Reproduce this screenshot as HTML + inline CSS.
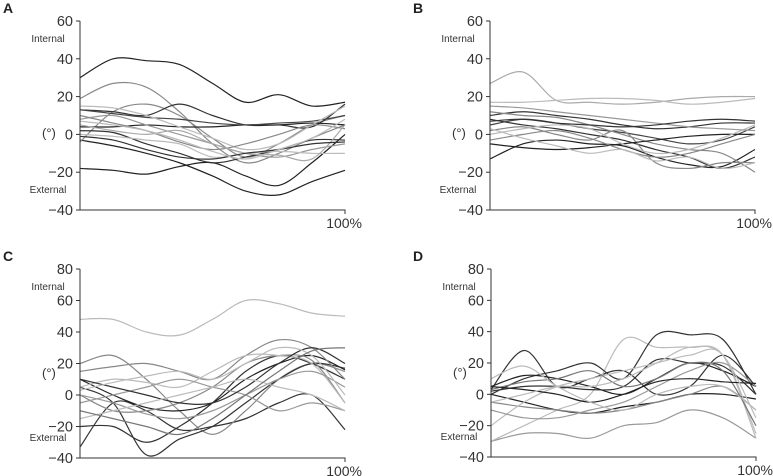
<!DOCTYPE html>
<html><head><meta charset="utf-8"><style>
body{margin:0;background:#fff;}
svg{display:block;font-family:"Liberation Sans",Arial,sans-serif;}
</style></head><body>
<svg id="chart" width="773" height="476"></svg>
<script>
const xFrac=[0,0.125,0.25,0.375,0.5,0.625,0.75,0.875,1];
const yTicksAB=[60,40,20,0,-20,-40];
const yTicksCD=[80,60,40,20,0,-20,-40];
const seriesA=[
[30,40,39,37,27,17,21,15,17],[-18,-19,-21,-17,-15,-22,-27,-15,0],[-3,-6,-10,-15,-22,-30,-32,-25,-19],
[-4,12,16,10,-2,-12,-5,5,10],[19,27,25,12,-5,-15,-10,-2,5],[13,12,10,16,10,5,5,4,16],
[4,4,5,4,4,5,5,6,5],[13,11,9,8,6,5,6,7,10],[8,10,5,0,-5,-10,-12,-8,-5],
[15,14,10,4,-2,-8,-5,5,15],[2,1,-5,-10,-15,-12,-8,-3,-3],[0,-1,-3,-5,-12,-10,-9,-10,-10],
[10,6,2,-4,-8,-5,0,5,3],[5,2,0,2,-5,-10,-11,-13,5],[-1,-3,-8,-12,-13,-10,-8,-5,-4],[7,5,2,-3,-9,-13,-8,-2,8]];
const seriesB=[
[27,33,18,17,16,17,19,20,20],[17,17,18,19,19,18,16,17,19],[10,12,10,8,5,3,4,6,6],
[-13,-5,-3,-5,-6,-12,-16,-17,-8],[5,8,6,3,1,-2,-5,-3,4],[8,5,3,0,-3,-8,-12,-18,-12],
[2,4,0,-3,2,-15,-18,-15,-15],[12,10,9,5,0,-5,-8,-10,-20],[-5,-7,-8,-7,-5,-3,-1,0,0],
[0,3,5,3,-5,-10,-8,-2,5],[15,14,12,10,8,6,4,3,2],[-3,0,2,-2,-8,-12,-10,-5,0],
[7,8,6,5,4,5,7,8,7],[3,-2,-6,-10,-8,-14,-12,-18,-15]];
const seriesC=[
[48,48,40,38,48,60,58,52,50],[-33,-5,-10,-22,-20,-15,-5,0,-22],[20,25,10,-10,-25,-10,10,20,15],
[-20,-20,-30,-20,-5,15,25,20,10],[5,-5,-38,-28,-20,-5,10,20,17],[10,0,-8,-10,-5,10,20,25,16],
[0,-10,-10,-5,5,20,25,22,-5],[15,18,20,15,10,25,35,30,10],[5,10,8,5,15,25,25,20,-5],
[-5,0,5,10,5,0,-10,-5,-10],[10,5,0,-5,-5,5,20,30,20],[0,-5,-12,-15,-10,0,10,15,5],
[-15,-10,-5,0,5,10,5,0,-10],[3,8,12,15,10,20,30,25,0],[-10,-15,-20,-25,-15,0,15,28,30]];
const seriesD=[
[3,28,5,10,15,0,5,25,5],[-30,-25,-25,-28,-20,-18,-10,-15,-28],[-30,-20,-10,0,35,30,30,25,-28],
[0,10,15,20,10,38,38,35,0],[5,12,10,5,0,10,20,15,5],[2,5,5,3,5,22,20,18,0],
[0,-5,-10,-12,-8,-5,0,0,-3],[-5,-8,-10,-12,-10,-5,0,5,-10],[-20,-5,5,10,15,20,25,25,-25],
[3,8,10,15,5,10,20,15,-20],[-10,-15,-15,-10,-5,5,15,20,5],[5,3,0,-5,0,8,10,8,7],
[-5,0,5,5,10,20,30,25,-15],[10,18,5,-5,-10,0,5,5,-10]];
const colA=['#222','#222','#222','#888','#888','#333','#222','#444','#999','#bbb','#333','#bbb','#888','#aaa','#333','#bbb'];
const colB=['#aaa','#bbb','#333','#222','#444','#333','#888','#888','#222','#bbb','#999','#888','#333','#bbb'];
const colC=['#bbb','#333','#888','#333','#333','#222','#888','#888','#bbb','#999','#333','#999','#bbb','#bbb','#777'];
const colD=['#333','#999','#bbb','#333','#222','#333','#222','#888','#bbb','#777','#999','#222','#bbb','#bbb'];
const svg=document.getElementById('chart');
const NS='http://www.w3.org/2000/svg';
function mk(tag,attrs,parent){const e=document.createElementNS(NS,tag);for(const k in attrs)e.setAttribute(k,attrs[k]);(parent||svg).appendChild(e);return e;}
function panel(letter,x0,x1,yTop,yBot,vmin,vmax,ticks,series,cols,lx){
  const g=mk('g',{});
  
  
  const xs=f=>x0+f*(x1-x0);
  const ys=v=>yBot-(v-vmin)/(vmax-vmin)*(yBot-yTop);
  const t=mk('text',{x:lx,y:yTop-8,'font-size':14,'font-weight':'bold',fill:'#222'},g);t.textContent=letter;
  
  series.forEach((s,i)=>{
    const p=s.map((v,j)=>[xs(xFrac[j]),ys(v)]);
    let d='M'+p[0][0]+','+p[0][1];
    for(let j=0;j<p.length-1;j++){
      const a=p[Math.max(0,j-1)],b=p[j],c=p[j+1],e=p[Math.min(p.length-1,j+2)];
      d+=' C'+(b[0]+(c[0]-a[0])/6)+','+(b[1]+(c[1]-a[1])/6)+' '+(c[0]-(e[0]-b[0])/6)+','+(c[1]-(e[1]-b[1])/6)+' '+c[0]+','+c[1];
    }
    const path=mk('path',{d:d,fill:'none',stroke:cols[i%cols.length],'stroke-width':1.2},g);
    
    
  });
  const ax=mk('path',{d:`M${x0},${yTop} V${yBot} H${x1} v4`,fill:'none',stroke:'#333','stroke-width':1},g);
  
  ticks.forEach(v=>{
    mk('line',{x1:x0-4,x2:x0,y1:ys(v),y2:ys(v),stroke:'#333'},g);
    const tl=mk('text',{x:x0-7,y:ys(v)+5,'font-size':14.5,'text-anchor':'end',fill:'#333'},g);
    tl.textContent=v<0?'\u2212'+(-v):v;
    
  });
  const labs=[['Internal',ys(ticks[0])+21],['External',yBot-17]];
  labs.forEach(([s,y])=>{const e=mk('text',{x:x0-32,y:y,'font-size':10,'text-anchor':'middle',fill:'#333'},g);e.textContent=s;
    });
  const u=mk('text',{x:x0-38,y:(yTop+yBot)/2+22-(ticks.length-6)*8,'font-size':13,fill:'#333'},g);u.textContent='(°)';
  
  const h=mk('text',{x:x1+17,y:yBot+18,'font-size':14,'text-anchor':'end',fill:'#333'},g);h.textContent='100%';
  
}
panel('A',80,345,21,210,-40,60,yTicksAB,seriesA,colA,3);
panel('B',490,755,21,210,-40,60,yTicksAB,seriesB,colB,413);
panel('C',80,345,269,458,-40,80,yTicksCD,seriesC,colC,3);
panel('D',491,756,269,457,-40,80,yTicksCD,seriesD,colD,413);
</script>
</body></html>
